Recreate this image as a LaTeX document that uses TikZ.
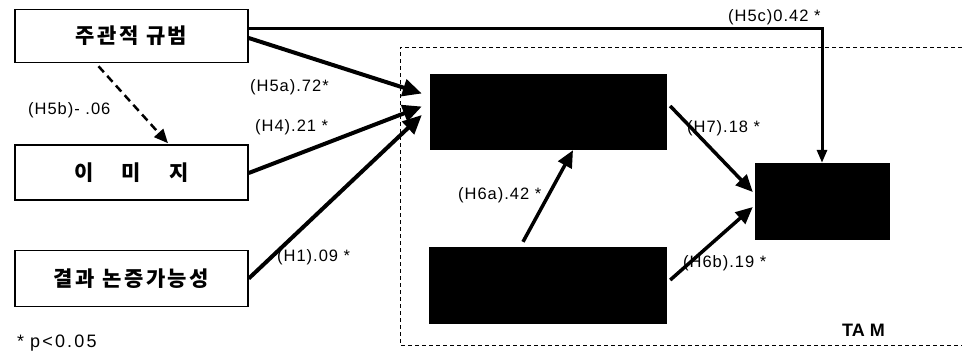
\documentclass[tikz,border=0pt]{standalone}
\usepackage{fontspec}
\setmainfont{Liberation Sans}
\newfontfamily\kr{Noto Sans CJK KR}[LetterSpace=12]
\usetikzlibrary{arrows.meta,calc}
\begin{document}
\begin{tikzpicture}[x=1pt,y=-1pt,
  srcbox/.style={draw, line width=1.5pt, minimum width=233pt, inner sep=0pt,
    font=\kr\bfseries\fontsize{21}{23}\selectfont},
  blk/.style={fill=black, draw=black, inner sep=0pt},
  lbl/.style={font=\fontsize{16.5}{18}\selectfont\addfontfeature{LetterSpace=6}, inner sep=0pt, anchor=west},
  bigarrow/.style={line width=4pt, -{Triangle[length=19pt,width=17pt]}},
  midarrow/.style={line width=3.5pt, -{Triangle[length=17pt,width=15pt]}},
  toparrow/.style={line width=3pt, -{Triangle[length=13pt,width=10pt]}},
  dasharrow/.style={line width=2.5pt, dash pattern=on 8pt off 5pt, -{Triangle[length=14pt,width=12pt]}},
  region/.style={line width=1pt, dash pattern=on 4pt off 3pt}
]
\useasboundingbox (0,0) rectangle (962,360);

% TAM region
\coordinate (rtr) at (962,47);
\coordinate (rtl) at (400,47);
\coordinate (rbl) at (400,345);
\coordinate (rbr) at (962,345);
\draw[region] (rtr) -- (rtl) -- (rbl) -- (rbr);

% source boxes
\node[srcbox, minimum height=53pt] (a1) at (131.5,36) {주관적 규범};
\node[srcbox, minimum height=55pt] (a2) at (131.5,172.5) {이\hspace{28pt}미\hspace{28pt}지};
\node[srcbox, minimum height=56pt] (a3) at (131.5,278.5) {결과 논증가능성};

% black boxes
\node[blk, minimum width=236pt, minimum height=75pt] (b1) at (548,111.5) {};
\node[blk, minimum width=237pt, minimum height=76pt] (b2) at (547.5,285) {};
\node[blk, minimum width=134pt, minimum height=76pt] (b3) at (822,201) {};

% connectors
\draw[toparrow] ($(a1.east)+(0,-8)$) -| (b3.north);
\draw[bigarrow] ($(a1.east)+(0,2)$) -- ($(b1.west)+(-8,-18)$);
\draw[bigarrow] ($(a2.east)+(0,0.5)$) -- ($(b1.west)+(-8,-5)$);
\draw[bigarrow] ($(a3.east)+(0,0)$) -- ($(b1.west)+(-8,3.5)$);
\draw[dasharrow] ($(a1.south)+(-33,3)$) -- ($(a2.north)+(36.5,-1)$);
\draw[midarrow] ($(b2.north)+(-24.5,-5)$) -- ($(b1.south)+(25,1)$);
\draw[midarrow] ($(b1.east)+(4,-5.5)$) -- ($(b3.west)+(-2,-9)$);
\draw[midarrow] ($(b2.east)+(4,-5)$) -- ($(b3.west)+(-2,6)$);

% labels
\node[lbl] (l5c) at (728,17) {(H5c)0.42 *};
\node[lbl] (l5a) at (250,87) {(H5a).72*};
\node[lbl] (l5b) at (28,110) {(H5b)- .06};
\node[lbl] (l4) at (255,127) {(H4).21 *};
\node[lbl] (l1) at (277,257) {(H1).09 *};
\node[lbl] (l6a) at (458,195) {(H6a).42 *};
\node[lbl] (l7) at (687,128) {(H7).18 *};
\node[lbl] (l6b) at (683,263) {(H6b).19 *};
\node[lbl, font=\bfseries\fontsize{18}{20}\selectfont] (ltam) at (842,330) {TA M};
\node[lbl, font=\fontsize{18}{20}\selectfont\addfontfeature{LetterSpace=12}] (lp) at (17,343) {*\hspace{6pt}p<0.05};
\end{tikzpicture}
\end{document}
